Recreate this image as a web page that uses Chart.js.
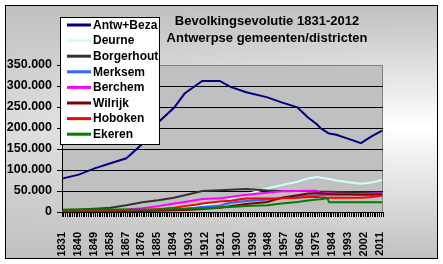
<!DOCTYPE html>
<html>
<head>
<meta charset="utf-8">
<script src="https://cdn.jsdelivr.net/npm/chart.js@4.4.1/dist/chart.umd.min.js"></script>
<style>
  html, body { margin: 0; padding: 0; background: #fff; }
  #wrap { position: relative; width: 443px; height: 264px; }
  #frame {
    position: absolute; left: 5px; top: 5px; width: 431px; height: 252px;
    border: 1px solid #000;
    background:
      linear-gradient(to right, rgba(192,192,192,0.55), rgba(192,192,192,0) 90%),
      linear-gradient(to bottom, #c0c0c0 0%, #ffffff 48%, #c0c0c0 100%);
  }
  canvas { position: absolute; left: 0; top: 0; }
</style>
</head>
<body>
<div id="wrap">
  <div id="frame"></div>
  <canvas id="chart" width="443" height="264"></canvas>
</div>
<script>
// sample years
const years = [1831, 1840, 1849, 1858, 1867, 1876, 1885, 1894, 1900, 1906, 1910, 1920, 1926, 1935,
               1947, 1955, 1964, 1970, 1975, 1977, 1981, 1982, 1986, 1993, 2000, 2006, 2012];

const antwBeza   = [80000, 89000, 104000, 116000, 128000, 162000, 213000, 248000, 282000, 300000, 312000, 312000, 298000, 285000,
                    273000, 261000, 249000, 225000, 209000, 200000, 189000, 187000, 184000, 174000, 164000, 180000, 194000];
const deurne     = [2500, 3000, 3500, 4000, 5000, 6000, 7500, 10000, 12000, 14000, 16000, 22000, 30000, 42000,
                    56500, 64000, 72000, 80000, 83500, 82000, 79000, 78500, 75000, 71000, 67000, 70500, 76000];
const borgerhout = [5000, 6000, 8000, 10000, 16000, 23000, 28000, 34000, 40000, 46000, 50000, 52000, 53000, 55000,
                    51000, 50000, 50000, 50000, 49000, 48500, 48000, 48000, 47500, 47000, 46500, 46500, 46500];
const merksem    = [2000, 2200, 2500, 3000, 3500, 4000, 5000, 6500, 8000, 10000, 12000, 15000, 22000, 26000,
                    30000, 33000, 38000, 39500, 40000, 40500, 41000, 41500, 42000, 42000, 42500, 43500, 44000];
const berchem    = [2000, 2500, 3000, 4000, 6000, 9000, 14000, 20000, 24000, 28000, 31000, 33000, 36000, 41000,
                    46000, 49500, 50000, 50500, 50500, 44500, 44000, 44000, 43500, 43000, 43000, 43500, 44500];
const wilrijk    = [1500, 1600, 1800, 2000, 2200, 2500, 3000, 4000, 5000, 6000, 7000, 10000, 14000, 19000,
                    24000, 34000, 40000, 44000, 44500, 44500, 43000, 42000, 41500, 41500, 41000, 41000, 42000];
const hoboken    = [2500, 2800, 3000, 3500, 4000, 5000, 7000, 10000, 14000, 17000, 20000, 25000, 27000, 32000,
                    32000, 32500, 34000, 36000, 36000, 35000, 34000, 34000, 34000, 34000, 34000, 36000, 39000];
const ekeren     = [5500, 6000, 6000, 6000, 6000, 5500, 6000, 7000, 8000, 8500, 9000, 11000, 12000, 14000,
                    16000, 20000, 24000, 27500, 30000, 30500, 32500, 23000, 23000, 23000, 23000, 23000, 23500];

const seriesNames  = ['Antw+Beza', 'Deurne', 'Borgerhout', 'Merksem', 'Berchem', 'Wilrijk', 'Hoboken', 'Ekeren'];
const seriesValues = [antwBeza, deurne, borgerhout, merksem, berchem, wilrijk, hoboken, ekeren];
const seriesColors = ['#000080', '#ccffff', '#333333', '#3366ff', '#ff00ff', '#800000', '#ff0000', '#008000'];

const titleLines = ['Bevolkingsevolutie 1831-2012', 'Antwerpse gemeenten/districten'];
const FONT = "'Liberation Sans', Arial, sans-serif";

function fmtThousands(v) {
    return String(v).replace(/\B(?=(\d{3})+(?!\d))/g, '.');
}

const plotBg = {
    id: 'plotBg',
    beforeDraw(chart) {
        const { ctx, chartArea: a } = chart;
        ctx.save();
        ctx.fillStyle = '#c0c0c0';
        ctx.fillRect(a.left, a.top, a.right - a.left, a.bottom - a.top);
        ctx.strokeStyle = '#808080';
        ctx.lineWidth = 1;
        ctx.beginPath();
        ctx.moveTo(a.left, a.top + 0.5);
        ctx.lineTo(a.right - 0.5, a.top + 0.5);
        ctx.lineTo(a.right - 0.5, a.bottom);
        ctx.stroke();
        ctx.restore();
    }
};

// title and the boxed legend sit on top of the plot, like in the original
const overlay = {
    id: 'overlay',
    afterDraw(chart) {
        const ctx = chart.ctx;
        ctx.save();
        ctx.fillStyle = '#000';
        ctx.font = 'bold 13px ' + FONT;
        ctx.textAlign = 'center';
        ctx.textBaseline = 'middle';
        ctx.fillText(titleLines[0], 267, 21);
        ctx.fillText(titleLines[1], 267, 38);

        ctx.fillStyle = '#fff';
        ctx.fillRect(60, 17, 99, 127);
        ctx.strokeStyle = '#000';
        ctx.lineWidth = 1;
        ctx.strokeRect(60.5, 17.5, 99, 127);

        ctx.font = 'bold 12px ' + FONT;
        ctx.textAlign = 'left';
        chart.data.datasets.forEach((ds, i) => {
            const y = 25 + i * 15.6;
            ctx.strokeStyle = ds.borderColor;
            ctx.lineWidth = 3;
            ctx.beginPath();
            ctx.moveTo(67, y);
            ctx.lineTo(91, y);
            ctx.stroke();
            ctx.fillStyle = '#000';
            ctx.fillText(ds.label, 93, y + 0.5);
        });
        ctx.restore();
    }
};

new Chart(document.getElementById('chart'), {
    type: 'line',
    data: {
        datasets: seriesNames.map((name, i) => ({
            label: name,
            data: years.map((yr, j) => ({ x: yr, y: seriesValues[i][j] })),
            borderColor: seriesColors[i],
            backgroundColor: seriesColors[i],
            borderWidth: 2,
            pointRadius: 0,
            tension: 0,
            fill: false,
            order: seriesNames.length - i
        }))
    },
    options: {
        responsive: false,
        devicePixelRatio: 1,
        animation: false,
        layout: { padding: { top: 65, right: 60, left: 0, bottom: 0 } },
        plugins: {
            legend: { display: false },
            title: { display: false },
            tooltip: { enabled: false }
        },
        scales: {
            x: {
                type: 'linear',
                min: 1830.5,
                max: 2012.5,
                afterFit: (s) => { s.height = 52; },
                grid: {
                    drawOnChartArea: false,
                    drawTicks: true,
                    tickLength: 5,
                    tickColor: '#000'
                },
                border: { display: true, color: '#000', width: 1 },
                ticks: {
                    stepSize: 1,
                    autoSkip: false,
                    minRotation: 90,
                    maxRotation: 90,
                    padding: 15,
                    color: '#000',
                    font: { family: FONT, size: 11, weight: 'bold' },
                    // ticks fall on the year boundaries; label each one with the year to its right
                    callback: (v) => {
                        const yr = Math.round(v + 0.5);
                        return (Math.abs(v + 0.5 - yr) < 1e-6 && (yr - 1831) % 9 === 0) ? String(yr) : '';
                    }
                }
            },
            y: {
                min: 0,
                max: 350000,
                afterFit: (s) => { s.width = 62; },
                grid: {
                    color: (c) => (c.tick && c.tick.value === 350000) ? '#808080' : '#000',
                    tickColor: '#000',
                    tickLength: 5,
                    lineWidth: 1
                },
                border: { display: true, color: '#000', width: 1 },
                ticks: {
                    stepSize: 50000,
                    padding: 5,
                    color: '#000',
                    font: { family: FONT, size: 12.5, weight: 'bold' },
                    callback: (v) => fmtThousands(v)
                }
            }
        }
    },
    plugins: [plotBg, overlay]
});
</script>
</body>
</html>
